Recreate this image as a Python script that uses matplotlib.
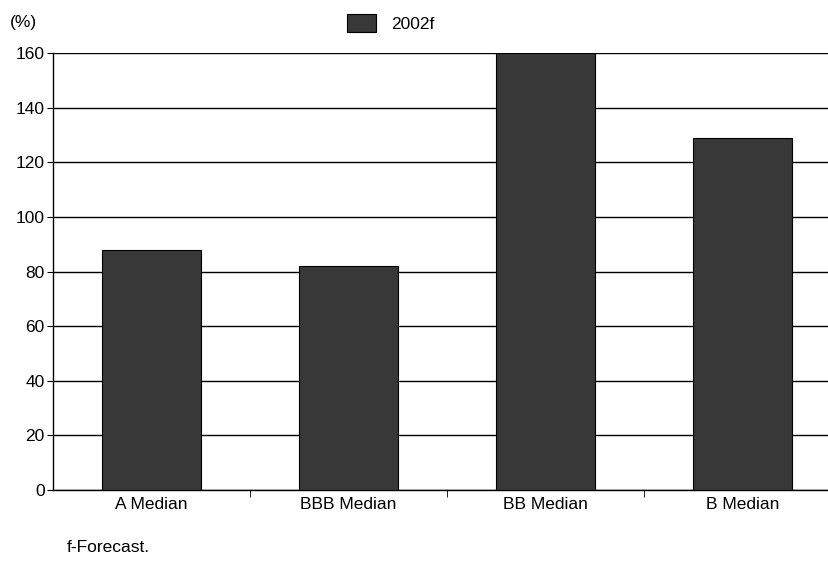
import matplotlib
matplotlib.use("Agg")
import matplotlib.pyplot as plt
import numpy as np

categories = ["A Median", "BBB Median", "BB Median", "B Median"]
values_2002f = [88, 82, 160, 129]
yticks = [0, 20, 40, 60, 80, 100, 120, 140, 160]

plt.rcParams['font.family'] = ['Liberation Sans', 'DejaVu Sans']
FS = 12.5

fig = plt.figure(figsize=(8.29, 5.64), dpi=100)
ax = fig.add_axes([0.064, 0.131, 0.936, 0.775])

x = np.arange(len(categories))
ax.set_axisbelow(True)
ax.yaxis.grid(True, color='black', linewidth=1.0)
ax.bar(x, values_2002f, width=0.5, color='#383838', edgecolor='black', linewidth=0.8,
       label='2002f', zorder=3)

ax.set_xlim(-0.5, len(categories) - 0.56)
ax.set_ylim(0, 160)
ax.set_yticks(yticks)
ax.set_yticklabels([str(v) for v in yticks], fontsize=FS)
ax.set_xticks(x)
ax.set_xticklabels(categories, fontsize=FS)
ax.tick_params(axis='x', length=0, pad=5)
ax.tick_params(axis='y', length=4, pad=2)
ax.set_xticks(np.arange(0.5, len(categories) - 0.5, 1.0), minor=True)
ax.tick_params(axis='x', which='minor', length=5, direction='out')

for s in ['top', 'right']:
    ax.spines[s].set_visible(False)
ax.spines['left'].set_linewidth(1.0)
ax.spines['bottom'].set_linewidth(1.0)

fig.text(0.012, 0.96, "(%)", fontsize=FS, va='center', ha='left')
leg = fig.legend(loc='center left', bbox_to_anchor=(347 / 829, 1 - 23 / 564), frameon=False,
                 fontsize=FS, handlelength=1.65, handleheight=1.2, handletextpad=0.9,
                 borderpad=0, borderaxespad=0)
fig.text(0.080, 0.030, "f-Forecast.", fontsize=FS, va='center', ha='left')

fig.savefig("out.png", dpi=100)
